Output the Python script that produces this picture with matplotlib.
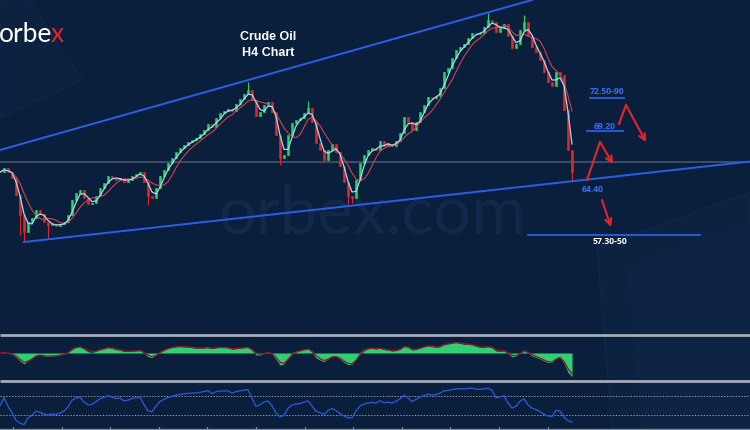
import numpy as np
import pandas as pd
import matplotlib
matplotlib.use("Agg")
import matplotlib.pyplot as plt
from matplotlib.patches import Polygon

closes = np.array([
    65.5, 65.9, 65.5, 64.9, 63.2, 61.2, 59.5, 60.5, 60.9, 61.7, 61.3, 60.5,
    60.2, 60.3, 60.1, 60.3, 60.5, 61.2, 62.7, 63.4, 63.7, 62.9, 62.3, 62.4,
    63.1, 63.9, 64.4, 65.1, 64.9, 64.7, 64.9, 64.5, 64.7, 65.1, 65.3, 65.5,
    64.5, 63.1, 62.9, 63.9, 65.1, 65.7, 66.4, 66.9, 67.5, 67.9, 68.2, 68.5,
    68.7, 68.9, 69.3, 69.7, 70.3, 70.0, 70.9, 71.4, 71.6, 71.8, 71.6, 72.3,
    72.8, 73.3, 73.7, 72.7, 71.1, 71.5, 72.2, 72.5, 71.5, 69.2, 66.9, 67.2,
    69.2, 70.4, 70.7, 70.9, 71.4, 71.9, 70.5, 68.4, 67.7, 66.7, 67.7, 68.3,
    67.5, 66.1, 64.5, 63.1, 62.9, 64.7, 66.4, 67.2, 67.7, 67.9, 67.7, 68.6,
    68.1, 68.3, 68.1, 68.6, 69.4, 71.0, 70.5, 69.7, 70.5, 71.5, 72.2, 73.0,
    72.9, 73.1, 73.9, 75.5, 75.9, 76.9, 77.7, 78.0, 78.3, 78.9, 79.4, 79.3,
    79.4, 80.0, 80.7, 80.5, 79.5, 79.9, 80.3, 79.1, 77.9, 78.3, 79.7, 80.5,
    79.1, 78.0, 77.5, 76.7, 75.5, 74.5, 74.1, 75.5, 75.2, 71.7, 67.7, 65.5,
])

# notable wick spikes
spike_idx = [5, 6, 12, 37, 70, 87, 88, 143, 62, 77, 122, 131]
spike_val = [59.2, 58.5, 58.9, 62.2, 66.2, 62.3, 62.4, 64.5, 74.5, 72.6, 81.4, 81.2]

# trend lines (bar index, price)
upper_line = ([0, 133], [67.7, 82.7])
support_line = ([6, 187.5], [58.5, 66.55])
pivot_level = 66.5

# target levels
levels = [72.9, 69.6, 59.2]
level_spans = [(147.5, 156), (146.75, 155.75), (132, 175)]
level_texts = ["72.50-90", "69.20", "57.30-50"]
level_text_pos = [(151.75, 73.6), (151.25, 70.05), (152.5, 58.55)]
support_text = "64.40"
support_text_pos = (148.25, 63.8)

# scenario paths
scen_up_x = [154.75, 156.5, 161.5]
scen_up_y = [70.3, 72.2, 68.5]
scen_low_x = [146.75, 150.0, 153.25]
scen_low_y = [64.7, 68.5, 66.3]
scen_down_x = [150.5, 152.75]
scen_down_y = [62.7, 60.0]

BG = "#0a1f3c"
BLUE = "#2a5ee8"
RED = "#e3262c"
GREEN = "#27d36b"

W, H = 750, 430
fig = plt.figure(figsize=(7.5, 4.3), dpi=100, facecolor=BG)

# background / decoration layer in pixel coords
bg = fig.add_axes([0, 0, 1, 1], zorder=0)
bg.set_xlim(0, W)
bg.set_ylim(H, 0)
bg.axis("off")
bg.set_facecolor(BG)
bg.add_patch(Polygon([(0, 0), (30, 0), (82, 80), (0, 118)], closed=True,
                     facecolor="#0c2241", edgecolor="#11274a", lw=0.8, zorder=1))
bg.add_patch(Polygon([(597, 248), (750, 192), (750, 430), (612, 430)], closed=True,
                     facecolor="#0c2241", edgecolor="#12284b", lw=0.8, zorder=1))
bg.add_patch(Polygon([(628, 266), (750, 222), (750, 430), (642, 430)], closed=True,
                     facecolor="#0e2444", edgecolor="none", zorder=1))
bg.text(372, 214, "orbex.com", color="#12284a", fontsize=48, family="Lato",
        weight="normal", ha="center", va="center", zorder=2)
bg.text(52, 34, "orbe", color="white", fontsize=19, family="Lato",
        weight="normal", ha="right", va="center", zorder=5)
bg.text(51, 34, "x", color=RED, fontsize=19, family="Lato",
        weight="normal", ha="left", va="center", zorder=5)
bg.text(268, 37, "Crude Oil", color="white", fontsize=9, weight="bold",
        family="Liberation Sans", ha="center", va="center", zorder=5)
bg.text(268, 53, "H4 Chart", color="white", fontsize=9, weight="bold",
        family="Liberation Sans", ha="center", va="center", zorder=5)
# panel separators and time axis strip
for yy in (335, 381):
    bg.plot([0, W], [yy, yy], color="#a3abbb", lw=2.0, solid_capstyle="butt")
bg.plot([0, W], [428.5, 428.5], color="#7d8697", lw=1.0)
for tx in np.arange(13, 560, 48.6):
    bg.plot([tx, tx], [427, 430], color="#7d8697", lw=0.8)

x = np.arange(len(closes))
step = 4.0
xmax = W / step

# main price panel: pixel rows 0..333, 10 px per dollar
main = fig.add_axes([0, (H - 333) / H, 1, 333 / H], zorder=2)
main.set_xlim(0, xmax)
main.set_ylim(82.7 - 33.3, 82.7)
main.axis("off")
main.patch.set_alpha(0)

opens = np.r_[closes[0], closes[:-1]]
lows = np.minimum(opens, closes)
highs = np.maximum(opens, closes)
for i, v in zip(spike_idx, spike_val):
    lows[i] = min(lows[i], v)
    highs[i] = max(highs[i], v)
cols = np.where(closes >= opens, GREEN, RED)
main.vlines(x, lows, highs, colors=cols, lw=0.8, zorder=3)
main.bar(x, closes - opens, bottom=opens, width=0.5, color=cols,
         edgecolor=cols, linewidth=0.4, zorder=3)
s = pd.Series(closes)
main.plot(x, s.rolling(6, min_periods=1).mean(), color="#d2424d", lw=0.8, zorder=4)
main.plot(x, s.rolling(3, min_periods=1).mean(), color="#a6dbe8", lw=0.9, zorder=5)

main.axhline(pivot_level, color="#56627a", lw=1.2, alpha=0.8, zorder=2)
main.plot(*upper_line, color=BLUE, lw=1.4, zorder=6)
main.plot(*support_line, color=BLUE, lw=1.4, zorder=6)

for lv, (a, b) in zip(levels, level_spans):
    main.plot([a, b], [lv, lv], color=BLUE, lw=1.3, zorder=6)
for t, (tx, ty) in zip(level_texts, level_text_pos):
    main.text(tx, ty, t, color="white" if t.startswith("57") else "#3a6ef0",
              fontsize=6.2, weight="bold", family="Open Sans",
              ha="center", va="center", zorder=7)
main.text(*support_text_pos, support_text, color="#3a6ef0", fontsize=6.2,
          weight="bold", family="Open Sans", ha="center", va="center", zorder=7)

for px, py in ((scen_up_x, scen_up_y), (scen_low_x, scen_low_y),
               (scen_down_x, scen_down_y)):
    main.plot(px[:-1], py[:-1], color=RED, lw=1.5, zorder=7)
    main.annotate("", xy=(px[-1], py[-1]), xytext=(px[-2], py[-2]),
                  arrowprops=dict(arrowstyle="->", color=RED, lw=1.5,
                                  mutation_scale=11, shrinkA=0, shrinkB=0),
                  zorder=7)

# oscillator panel, pixel rows 337..380 (zero line 16 px below top)
fast = s.ewm(span=2).mean() - s.ewm(span=8).mean()
signal = fast.ewm(span=2).mean()
osc = fig.add_axes([0, (H - 380) / H, 1, 43 / H], zorder=2)
osc.set_xlim(0, xmax)
hi = fast.quantile(0.97) * 16 / 9
osc.set_ylim(-hi * 27 / 16, hi)
osc.axis("off")
osc.patch.set_alpha(0)
osc.fill_between(x, 0, fast, color="#2fd072", lw=0)
osc.plot(x, signal, color="#8a1d2e", lw=1.0)

# RSI panel, pixel rows 383..428
delta = s.diff().fillna(0)
gain = delta.clip(lower=0).ewm(alpha=1 / 8, adjust=False).mean() + 0.05
loss = (-delta.clip(upper=0)).ewm(alpha=1 / 8, adjust=False).mean() + 0.05
rsi = 100 * gain / (gain + loss)
rax = fig.add_axes([0, (H - 428) / H, 1, 45 / H], zorder=2)
rax.set_xlim(0, xmax)
rax.set_ylim(2, 98)
rax.axis("off")
rax.patch.set_alpha(0)
rax.axhline(70, color="#8a93a5", lw=0.7, ls=(0, (1.5, 1.5)))
rax.axhline(30, color="#8a93a5", lw=0.7, ls=(0, (1.5, 1.5)))
rax.plot(x, rsi, color="#2b55cf", lw=1.0)

fig.savefig("out.png", dpi=100, facecolor=BG)
